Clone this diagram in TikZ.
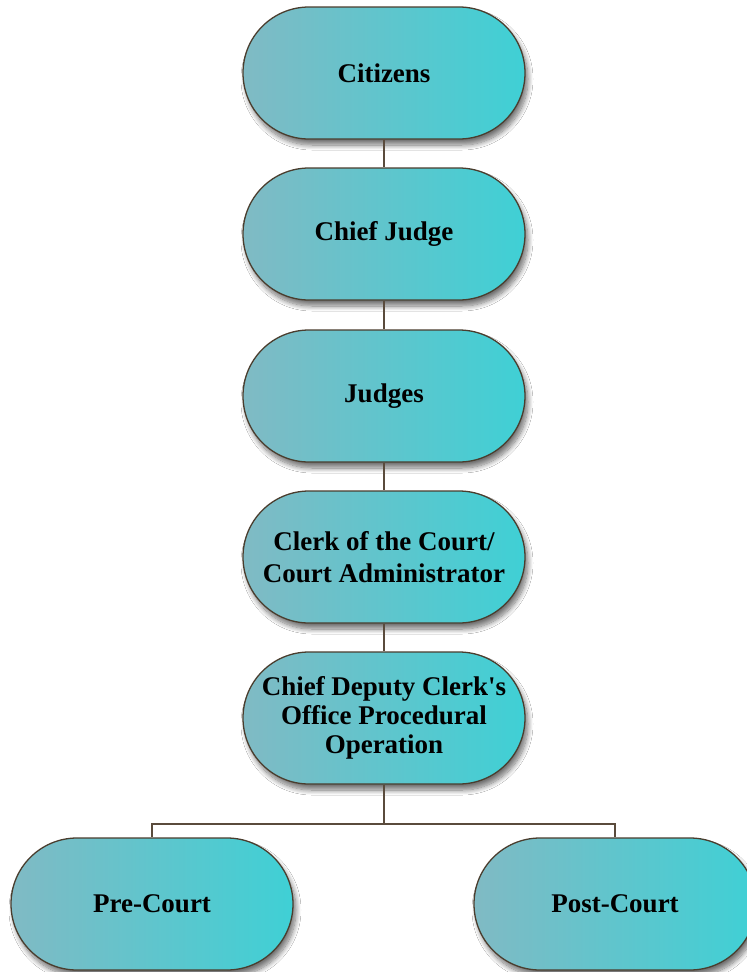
\documentclass[tikz,border=0pt]{standalone}
\usepackage{fontspec}
\setmainfont{Liberation Serif}
\usetikzlibrary{shadows.blur}
\definecolor{leftc}{HTML}{80BAC4}
\definecolor{rightc}{HTML}{3FD0D5}
\definecolor{edge}{HTML}{4A3D2E}
\definecolor{linec}{HTML}{5A4B3C}
\tikzset{
  box/.style={rectangle, rounded corners=66pt, minimum width=282pt, minimum height=132pt,
    draw=edge, line width=1.3pt, left color=leftc, right color=rightc,
    blur shadow={shadow xshift=3pt, shadow yshift=-6pt, shadow blur steps=10, shadow blur radius=5pt, shadow opacity=55},
    align=center, font=\fontsize{27}{31}\selectfont\bfseries, text=black, inner sep=0pt},
  conn/.style={draw=linec, line width=1.3pt}
}
\begin{document}
\begin{tikzpicture}[x=1pt,y=-1pt]
\clip (0,0) rectangle (747,972);
\fill[white] (0,0) rectangle (747,972);
\node[box] (cit) at (384,73) {Citizens};
\node[box] (cj) at (384,234) {Chief Judge};
\node[box] (jud) at (384,396) {Judges};
\node[box] (clerk) at (384,557) {Clerk of the Court/\\[1pt]Court Administrator};
\node[box] (dep) at (384,718) {Chief Deputy Clerk\textquotesingle s\\[-2pt]Office Procedural\\[-2pt]Operation};
\node[box] (pre) at (152,904) {Pre-Court};
\node[box] (post) at (615,904) {Post-Court};
\coordinate (bar) at (384,824);
\draw[conn] (cit.south) -- (cj.north);
\draw[conn] (cj.south) -- (jud.north);
\draw[conn] (jud.south) -- (clerk.north);
\draw[conn] (clerk.south) -- (dep.north);
\draw[conn] (dep.south) -- (bar);
\draw[conn] (bar) -| (pre.north);
\draw[conn] (bar) -| (post.north);
\end{tikzpicture}
\end{document}
